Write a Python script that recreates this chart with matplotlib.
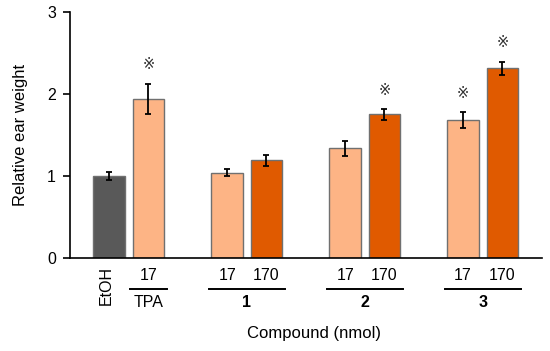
import matplotlib
matplotlib.use("Agg")
import matplotlib.pyplot as plt

plt.rcParams['font.family'] = ['Liberation Sans', 'DejaVu Sans']

# --- data ---
bar_x = [0, 1, 3, 4, 6, 7, 9, 10]
values = [1.00, 1.94, 1.04, 1.19, 1.34, 1.75, 1.68, 2.31]
errors = [0.05, 0.18, 0.045, 0.065, 0.09, 0.065, 0.095, 0.08]
dose_labels = ["EtOH", "17", "17", "170", "17", "170", "17", "170"]
significant = [False, True, False, False, False, True, True, True]
group_names = ["TPA", "1", "2", "3"]
group_spans = [(1, 1), (3, 4), (6, 7), (9, 10)]

dark_grey = "#595959"
light_orange = "#FDB485"
dark_orange = "#E05A00"
colors = [dark_grey, light_orange, light_orange, dark_orange,
          light_orange, dark_orange, light_orange, dark_orange]

fig = plt.figure(figsize=(5.5, 3.51), dpi=100)
ax = fig.add_axes([0.127, 0.264, 0.858, 0.703])

ax.bar(bar_x, values, width=0.8, color=colors, edgecolor="#707070", linewidth=1.0, zorder=2)
ax.errorbar(bar_x, values, yerr=errors, fmt="none", ecolor="black",
            elinewidth=1.3, capsize=2.5, capthick=1.3, zorder=3)

# significance marks
for x, v, e, s in zip(bar_x, values, errors, significant):
    if s:
        ax.text(x, v + e + 0.14, "\u203b", ha="center", va="bottom", fontsize=10.5,
                color="#333333", family=['DejaVu Sans'])

ax.set_xlim(-1, 11)
ax.set_ylim(0, 3)
ax.set_yticks([0, 1, 2, 3])
ax.tick_params(axis="y", direction="out", length=5, width=1.2, pad=5, labelsize=11.5)
ax.tick_params(axis="x", bottom=False, labelbottom=False)
for side in ["top", "right"]:
    ax.spines[side].set_visible(False)
ax.spines["left"].set_linewidth(1.2)
ax.spines["bottom"].set_linewidth(1.2)
ax.set_ylabel("Relative ear weight", fontsize=12)
ax.yaxis.set_label_coords(-0.088, 0.5)

# dose labels under bars
trans = ax.get_xaxis_transform()
for x, lab in zip(bar_x, dose_labels):
    if lab == "EtOH":
        ax.text(x - 0.07, -0.11, lab, rotation=90, ha="center", va="center",
                fontsize=11.5, transform=trans)
    else:
        ax.text(x, -0.068, lab, ha="center", va="center", fontsize=11.5, transform=trans)

# group underlines and names
for (a, b), name in zip(group_spans, group_names):
    x0, x1 = a - 0.47, b + 0.47
    ax.plot([x0, x1], [-0.124, -0.124], color="black", lw=1.4, transform=trans, clip_on=False)
    ax.text((a + b) / 2, -0.181, name, ha="center", va="center", fontsize=11.5,
            fontweight="normal" if name == "TPA" else "bold", transform=trans)

ax.text(5.2, -0.306, "Compound (nmol)", ha="center", va="center", fontsize=12, transform=trans)

fig.savefig("out.png", dpi=100)
